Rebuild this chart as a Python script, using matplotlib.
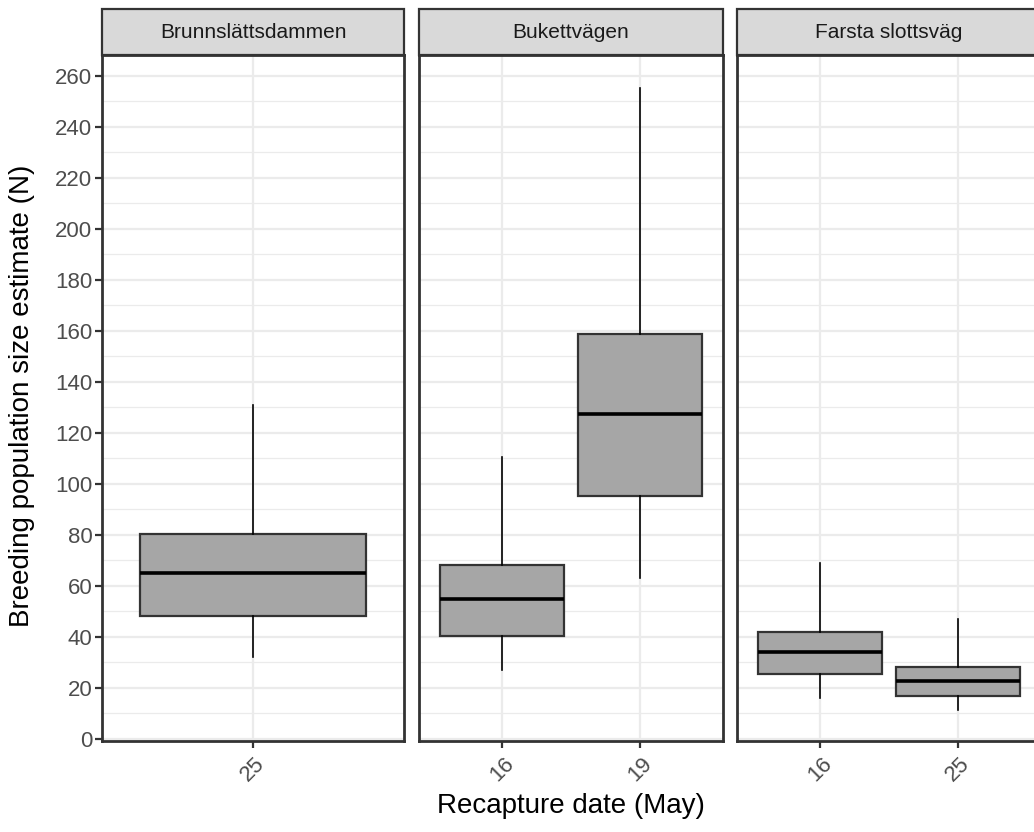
import matplotlib
matplotlib.use("Agg")
import matplotlib.pyplot as plt
from matplotlib.patches import Rectangle

plt.rcParams["font.family"] = ["Liberation Sans", "DejaVu Sans"]

sites = ["Brunnslättsdammen", "Bukettvägen", "Farsta slottsväg"]
dates = [["25"], ["16", "19"], ["16", "25"]]
whis_lo = [[32.3], [27.2, 63.0], [16.2, 11.3]]
q1 = [[48.2], [40.5, 95.3], [25.4, 17.0]]
med = [[65.2], [54.8, 127.6], [34.1, 22.9]]
q3 = [[80.5], [68.2, 158.8], [41.8, 28.2]]
whis_hi = [[130.9], [110.6, 255.3], [69.1, 47.1]]

W, H = 1034, 832
fig = plt.figure(figsize=(W / 100, H / 100), dpi=100)

panel_x = [(102, 404), (419, 723), (737, 1041)]
py0, py1 = 741, 55
strip_top = 9
dark = "#333333"

for i, site in enumerate(sites):
    x0, x1 = panel_x[i]
    ax = fig.add_axes([x0 / W, 1 - py0 / H, (x1 - x0) / W, (py0 - py1) / H])
    stats = []
    for j in range(len(dates[i])):
        stats.append(dict(whislo=whis_lo[i][j], q1=q1[i][j], med=med[i][j],
                          q3=q3[i][j], whishi=whis_hi[i][j], label=dates[i][j]))
    pos = list(range(1, len(dates[i]) + 1))
    ax.bxp(stats, positions=pos, widths=0.9, patch_artist=True,
           showcaps=False, showfliers=False,
           boxprops=dict(facecolor="#a6a6a6", edgecolor=dark, linewidth=1.6),
           medianprops=dict(color="black", linewidth=2.6),
           whiskerprops=dict(color="black", linewidth=1.2), zorder=3)
    ax.set_xlim(0.4, len(dates[i]) + 0.6)
    ax.set_ylim(-0.8, 268.2)
    ax.set_yticks(range(0, 261, 20))
    ax.set_yticks(range(10, 261, 20), minor=True)
    ax.set_xticks(pos)
    ax.set_xticklabels(dates[i], rotation=45, ha="center", va="top")
    ax.grid(True, which="major", color="#ebebeb", linewidth=1.6, zorder=0)
    ax.grid(True, which="minor", axis="y", color="#ebebeb", linewidth=0.9, zorder=0)
    ax.set_axisbelow(True)
    for s in ax.spines.values():
        s.set_color(dark)
        s.set_linewidth(2.0)
    ax.tick_params(axis="both", which="major", length=5, width=1.6, color=dark,
                   labelcolor="#4d4d4d", labelsize=16)
    ax.tick_params(axis="y", which="minor", length=0)
    ax.tick_params(axis="y", pad=2)
    ax.tick_params(axis="x", pad=4)
    if i > 0:
        ax.tick_params(axis="y", which="major", length=0, labelleft=False)
    # facet strip
    strip = Rectangle((x0 / W, 1 - py1 / H), (x1 - x0) / W, (py1 - strip_top) / H,
                      transform=fig.transFigure, facecolor="#d9d9d9",
                      edgecolor=dark, linewidth=1.6)
    fig.patches.append(strip)
    fig.text((x0 + x1) / 2 / W, 1 - (py1 + strip_top) / 2 / H, site,
             ha="center", va="center", fontsize=15, color="#1a1a1a")

fig.text(571 / W, 1 - 806 / H, "Recapture date (May)", ha="center", va="center",
         fontsize=20, color="black")
fig.text(22 / W, 1 - 396 / H, "Breeding population size estimate (N)", ha="center",
         va="center", rotation=90, fontsize=20, color="black")

fig.savefig("out.png", dpi=100, facecolor="white")
